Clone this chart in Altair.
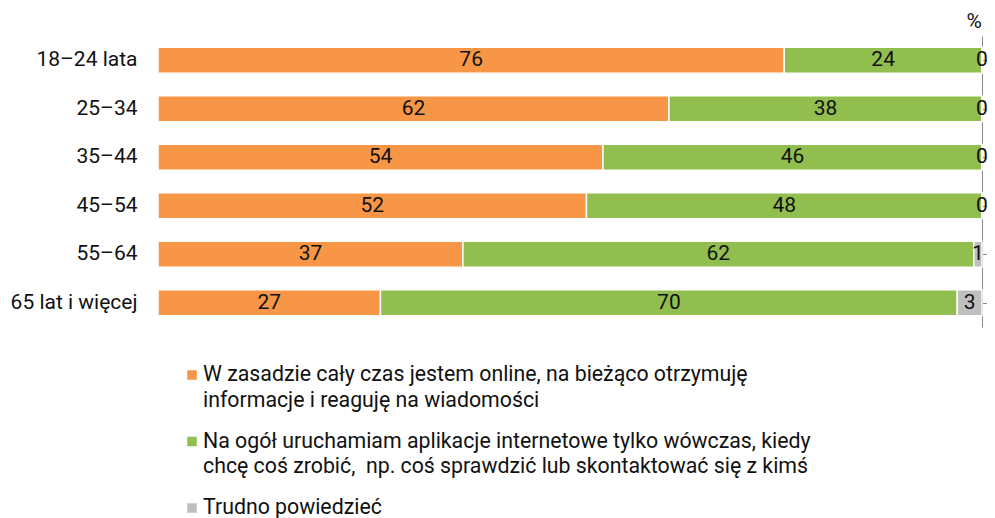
import altair as alt
import pandas as pd

groups = ["18–24 lata", "25–34", "35–44", "45–54", "55–64", "65 lat i więcej"]
series = [
    "W zasadzie cały czas jestem online, na bieżąco otrzymuję informacje i reaguję na wiadomości",
    "Na ogół uruchamiam aplikacje internetowe tylko wówczas, kiedy chcę coś zrobić,  np. coś sprawdzić lub skontaktować się z kimś",
    "Trudno powiedzieć",
]
legend_lines = [
    ["W zasadzie cały czas jestem online, na bieżąco otrzymuję", "informacje i reaguję na wiadomości"],
    ["Na ogół uruchamiam aplikacje internetowe tylko wówczas, kiedy", "chcę coś zrobić,\u00a0 np. coś sprawdzić lub skontaktować się z kimś"],
    ["Trudno powiedzieć"],
]
always_online = [76, 62, 54, 52, 37, 27]
when_needed = [24, 38, 46, 48, 62, 70]
hard_to_say = [0, 0, 0, 0, 1, 3]
colors = ["#F79646", "#92BE50", "#BFBFBF"]

rows = []
for si, vals in enumerate([always_online, when_needed, hard_to_say]):
    for g, v in zip(groups, vals):
        rows.append({"group": g, "series": series[si], "order": si, "value": v})
df = pd.DataFrame(rows)

# legend table (layout only)
leg_rows = []
slot = 0
for k, lines in enumerate(legend_lines):
    for j, line in enumerate(lines):
        leg_rows.append({"item": k, "line": j, "slot": slot, "text": line,
                         "color": colors[k]})
        slot += 1
leg_df = pd.DataFrame(leg_rows)

FONT = "Roboto"
TXT = "#111111"
FS = 21

base = alt.Chart(df).transform_stack(
    stack="value", as_=["start", "end"], groupby=["group"], sort=[alt.SortField("order")]
).transform_calculate(mid="(datum.start + datum.end) / 2")

yenc = alt.Y(
    "group:N",
    sort=groups,
    scale=alt.Scale(paddingInner=0.46, paddingOuter=0.23),
    axis=alt.Axis(title=None, ticks=False, domain=False, labelFontSize=FS,
                  labelFont=FONT, labelColor=TXT, labelPadding=21, labelLimit=0),
)

bars = base.mark_bar(stroke="white", strokeWidth=1.5).encode(
    x=alt.X("start:Q", scale=alt.Scale(domain=[0, 100], nice=False), axis=None),
    x2="end:Q",
    y=yenc,
    color=alt.Color("series:N", scale=alt.Scale(domain=series, range=colors), legend=None),
)

labels = base.mark_text(font=FONT, fontSize=FS, color=TXT).encode(
    x="mid:Q",
    y=alt.Y("group:N", sort=groups),
    text="value:Q",
)

pct = alt.Chart(pd.DataFrame({"t": ["%"]})).mark_text(
    font=FONT, fontSize=FS, color=TXT, align="right"
).encode(x=alt.datum(100), y=alt.value(-14), text="t:N")

leg_base = alt.Chart(leg_df).transform_calculate(
    py="339 + 25.5 * datum.slot + 15.5 * datum.item"
)
leg_text = leg_base.mark_text(font=FONT, fontSize=21.3, color=TXT, align="left",
                              baseline="middle").encode(
    x=alt.value(45),
    y=alt.Y("py:Q", scale=None, axis=None),
    text="text:N",
)
leg_sym = leg_base.transform_filter("datum.line == 0").mark_square(
    size=90, opacity=1
).encode(
    x=alt.value(34),
    y=alt.Y("py:Q", scale=None, axis=None),
    color=alt.Color("color:N", scale=None),
)

chart = alt.layer(bars, labels, pct, leg_text, leg_sym).resolve_scale(
    y="independent", color="independent"
).properties(
    width=824, height=291,
    padding={"left": 150, "top": 28, "right": 5, "bottom": 215},
    autosize=alt.AutoSizeParams(type="none"),
).configure_view(stroke=None)

chart.save("out.html", embed_options={"renderer": "svg", "actions": False})
